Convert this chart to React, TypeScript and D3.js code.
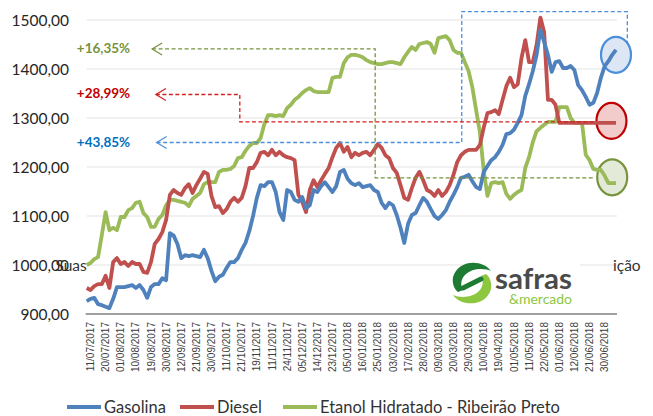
import React, { useEffect, useRef } from 'react'
import * as d3 from 'd3'

const dateLabels = [
  '11/07/2017', '20/07/2017', '01/08/2017', '10/08/2017', '19/08/2017', '30/08/2017',
  '12/09/2017', '21/09/2017', '30/09/2017', '11/10/2017', '21/10/2017', '19/11/2017',
  '11/11/2017', '24/11/2017', '05/12/2017', '14/12/2017', '23/12/2017', '05/01/2018',
  '16/01/2018', '25/01/2018', '03/02/2018', '17/02/2018', '28/02/2018', '09/03/2018',
  '20/03/2018', '29/03/2018', '10/04/2018', '19/04/2018', '01/05/2018', '11/05/2018',
  '22/05/2018', '01/06/2018', '12/06/2018', '21/06/2018', '30/06/2018',
]

const gasolina = [
  926, 931, 933, 920, 918, 915, 912, 931, 955, 955,
  955, 957, 959, 953, 959, 949, 933, 955, 961, 961,
  973, 969, 1065, 1060, 1043, 1014, 1020, 1018, 1020, 1018,
  1016, 1031, 1014, 988, 967, 976, 980, 994, 1006, 1006,
  1014, 1031, 1045, 1069, 1100, 1137, 1163, 1161, 1169, 1169,
  1149, 1108, 1092, 1153, 1149, 1133, 1129, 1139, 1116, 1122,
  1153, 1149, 1161, 1169, 1159, 1149, 1161, 1190, 1194, 1176,
  1167, 1163, 1167, 1159, 1161, 1163, 1153, 1149, 1127, 1116,
  1127, 1122, 1102, 1076, 1045, 1084, 1102, 1106, 1122, 1137,
  1129, 1114, 1100, 1094, 1102, 1112, 1129, 1143, 1159, 1178,
  1180, 1184, 1171, 1159, 1155, 1190, 1202, 1214, 1220, 1231,
  1245, 1267, 1269, 1276, 1290, 1306, 1345, 1369, 1396, 1429,
  1480, 1455, 1429, 1394, 1414, 1416, 1402, 1402, 1406, 1398,
  1367, 1357, 1343, 1327, 1331, 1351, 1382, 1406, 1416, 1429,
  1439,
]

const diesel = [
  953, 949, 957, 961, 961, 978, 953, 1006, 1014, 1002,
  1006, 998, 1006, 1002, 1002, 986, 984, 1006, 1043, 1053,
  1067, 1092, 1143, 1153, 1147, 1143, 1157, 1165, 1147, 1163,
  1176, 1190, 1186, 1141, 1118, 1120, 1106, 1114, 1129, 1137,
  1129, 1137, 1161, 1198, 1198, 1210, 1229, 1231, 1224, 1235,
  1224, 1231, 1224, 1220, 1218, 1214, 1143, 1129, 1108, 1153,
  1173, 1159, 1173, 1186, 1198, 1220, 1239, 1249, 1231, 1241,
  1220, 1229, 1224, 1229, 1231, 1224, 1235, 1247, 1239, 1224,
  1218, 1198, 1188, 1163, 1137, 1133, 1157, 1178, 1190, 1173,
  1153, 1149, 1141, 1153, 1141, 1149, 1163, 1184, 1210, 1224,
  1231, 1235, 1235, 1235, 1245, 1280, 1310, 1312, 1316, 1308,
  1337, 1365, 1382, 1363, 1369, 1422, 1459, 1414, 1414, 1449,
  1505, 1475, 1337, 1337, 1327, 1290, 1290, 1290, 1290, 1290,
  1290, 1290, 1290, 1290, 1290, 1290, 1290, 1290, 1290, 1290,
  1290,
]

const etanol = [
  1000, 1004, 1012, 1016, 1061, 1108, 1071, 1076, 1071, 1098,
  1098, 1112, 1116, 1127, 1129, 1106, 1098, 1078, 1078, 1094,
  1102, 1122, 1133, 1133, 1131, 1129, 1127, 1120, 1135, 1141,
  1147, 1165, 1169, 1169, 1169, 1190, 1194, 1194, 1196, 1202,
  1218, 1220, 1233, 1243, 1249, 1249, 1259, 1288, 1306, 1306,
  1304, 1306, 1304, 1320, 1327, 1337, 1343, 1351, 1357, 1361,
  1355, 1353, 1353, 1353, 1353, 1382, 1384, 1384, 1412, 1424,
  1429, 1429, 1427, 1424, 1418, 1414, 1412, 1410, 1410, 1412,
  1414, 1414, 1412, 1410, 1424, 1435, 1445, 1439, 1451, 1453,
  1455, 1451, 1433, 1463, 1465, 1467, 1459, 1439, 1433, 1433,
  1414, 1396, 1363, 1316, 1271, 1194, 1141, 1167, 1169, 1167,
  1169, 1145, 1135, 1143, 1149, 1153, 1198, 1220, 1251, 1273,
  1280, 1286, 1292, 1292, 1292, 1322, 1322, 1322, 1300, 1290,
  1290, 1290, 1225, 1214, 1196, 1194, 1194, 1182, 1167, 1167,
  1167,
]

const yTicks = [900, 1000, 1100, 1200, 1300, 1400, 1500]
const seriesNames = ['Gasolina', 'Diesel', 'Etanol Hidratado - Ribeirão Preto']
const seriesColors = ['#4F81BD', '#C0504D', '#9BBB59']
const changeLabels = ['+43,85%', '+28,99%', '+16,35%']

const W = 653
const H = 416

const App = () => {
  const ref = useRef<SVGSVGElement>(null)

  useEffect(() => {
    const svg = d3.select(ref.current)
    svg.selectAll('*').remove()

    const margin = { top: 20, right: 37, bottom: 102, left: 86.7 }
    const n = gasolina.length
    const x = d3.scalePoint<number>()
      .domain(d3.range(n))
      .range([margin.left, W - margin.right])
    const xi = (i: number) => margin.left + i * x.step()
    const y = d3.scaleLinear()
      .domain([900, 1500])
      .range([H - margin.bottom, margin.top])

    const locale = d3.formatLocale({ decimal: ',', thousands: '', grouping: [3], currency: ['', ''] })
    const fmt = locale.format('.2f')

    // gridlines
    svg.append('g')
      .selectAll('line')
      .data(yTicks.slice(1))
      .join('line')
      .attr('x1', margin.left).attr('x2', W - margin.right + 1)
      .attr('y1', d => y(d)).attr('y2', d => y(d))
      .attr('stroke', '#E4E4E4').attr('stroke-width', 1.2)

    // stray text fragments peeking out from behind the plot
    svg.append('text')
      .attr('x', margin.left).attr('y', y(1000) + 5.5)
      .attr('text-anchor', 'end')
      .attr('font-family', 'Lato').attr('font-size', 15.5).attr('fill', '#333')
      .text('Suas')
    svg.append('text')
      .attr('x', 613).attr('y', y(1000) + 5.5)
      .attr('font-family', 'Lato').attr('font-size', 15.5).attr('fill', '#333')
      .text('ição')

    // y labels
    svg.append('g')
      .selectAll('text')
      .data(yTicks)
      .join('text')
      .attr('x', 69).attr('y', d => y(d) + 5.5)
      .attr('text-anchor', 'end')
      .attr('font-family', 'Lato').attr('font-size', 15.5).attr('fill', '#262626')
      .text(d => fmt(d))

    // logo
    const logo = svg.append('g')
    logo.append('rect').attr('x', 486).attr('y', 258).attr('width', 94).attr('height', 50).attr('fill', '#fff')
    logo.append('path')
      .attr('d', 'M491,271 C483,259 458,259 453,277 C452,283 454,289 458,292 L463,290 C460,285 461,279 465,275 C472,268 484,268 491,271 Z')
      .attr('fill', '#1E7B34')
    logo.append('path')
      .attr('d', 'M453,295 C461,307 486,307 491,289 C492,283 490,277 486,274 L481,276 C484,281 483,287 479,291 C472,298 460,298 453,295 Z')
      .attr('fill', '#8DC63F')
    logo.append('line')
      .attr('x1', 463).attr('y1', 288).attr('x2', 481).attr('y2', 279)
      .attr('stroke', '#1E7B34').attr('stroke-width', 5).attr('stroke-linecap', 'round')
    logo.append('text')
      .attr('x', 495).attr('y', 289)
      .attr('font-family', 'Lato').attr('font-weight', 700).attr('font-size', 29)
      .attr('fill', '#4A4A4A').attr('textLength', 77).attr('lengthAdjust', 'spacingAndGlyphs')
      .text('safras')
    logo.append('text')
      .attr('x', 509).attr('y', 304)
      .attr('font-family', 'Lato').attr('font-size', 12.5)
      .attr('fill', '#8DC63F').attr('textLength', 63).attr('lengthAdjust', 'spacingAndGlyphs')
      .text('&mercado')

    // circles at the end of each series
    const circles = [
      { i: 140, v: 1429, fill: '#DCE6F4', stroke: '#4A8FD8' },
      { i: 138.8, v: 1294, fill: '#F2CBCB', stroke: '#C00000' },
      { i: 139, v: 1179, fill: '#E3EAD8', stroke: '#77933C' },
    ]
    svg.append('g')
      .selectAll('ellipse')
      .data(circles)
      .join('ellipse')
      .attr('cx', d => xi(d.i)).attr('cy', d => y(d.v))
      .attr('rx', 15).attr('ry', 18)
      .attr('fill', d => d.fill).attr('stroke', d => d.stroke).attr('stroke-width', 2.2)

    // series
    const line = d3.line<number>()
      .x((d, i) => x(i) as number)
      .y(d => y(d))
    const series = [gasolina, diesel, etanol]
    svg.append('g')
      .selectAll('path')
      .data([etanol, diesel, gasolina])
      .join('path')
      .attr('d', d => line(d))
      .attr('fill', 'none')
      .attr('stroke', d => seriesColors[series.indexOf(d)])
      .attr('stroke-width', 3.8)
      .attr('stroke-linejoin', 'round')

    // dashed annotation paths
    const annotations = [
      { color: '#4A8FD8', label: changeLabels[0], text: '#0070C0', pts: [[18.5, 1250], [99.2, 1250], [99.2, 1517], [143, 1517], [143, 1453]] },
      { color: '#D42020', label: changeLabels[1], text: '#C00000', pts: [[18.3, 1348], [40.5, 1348], [40.5, 1292], [134, 1292]] },
      { color: '#77933C', label: changeLabels[2], text: '#77933C', pts: [[17.3, 1441], [76.3, 1441], [76.3, 1178], [134, 1178]] },
    ]
    const ann = svg.append('g')
    annotations.forEach(a => {
      const pl = d3.line<number[]>().x(p => xi(p[0])).y(p => y(p[1]))
      ann.append('path')
        .attr('d', pl(a.pts))
        .attr('fill', 'none').attr('stroke', a.color)
        .attr('stroke-width', 1.3).attr('stroke-dasharray', '4,2.5')
      const tx = xi(a.pts[0][0])
      const ty = y(a.pts[0][1])
      ann.append('path')
        .attr('d', `M${tx + 10},${ty - 6} L${tx},${ty} L${tx + 10},${ty + 6}`)
        .attr('fill', 'none').attr('stroke', a.color).attr('stroke-width', 1.2)
      ann.append('text')
        .attr('x', 103.5).attr('y', ty + 4)
        .attr('text-anchor', 'middle')
        .attr('font-family', 'Lato').attr('font-weight', 700).attr('font-size', 13.5)
        .attr('fill', a.text)
        .text(a.label)
    })

    // x axis
    svg.append('line')
      .attr('x1', margin.left - 1).attr('x2', W - margin.right + 1)
      .attr('y1', y(900)).attr('y2', y(900))
      .attr('stroke', '#A0A0A0').attr('stroke-width', 1.8)

    svg.append('g')
      .selectAll('text')
      .data(dateLabels)
      .join('text')
      .attr('transform', (d, k) => `translate(${(x(1 + 4 * k) as number) + 3.6},${y(900) + 8}) rotate(-90)`)
      .attr('text-anchor', 'end')
      .attr('font-family', 'Liberation Sans').attr('font-size', 10).attr('fill', '#404040')
      .text(d => d)

    // legend
    const legendX = [67, 180, 283]
    const lg = svg.append('g')
    seriesNames.forEach((name, k) => {
      lg.append('line')
        .attr('x1', legendX[k]).attr('x2', legendX[k] + 34)
        .attr('y1', 407).attr('y2', 407)
        .attr('stroke', seriesColors[k]).attr('stroke-width', 4)
      lg.append('text')
        .attr('x', legendX[k] + 37).attr('y', 412.5)
        .attr('font-family', 'Lato').attr('font-size', 16.5).attr('fill', '#333')
        .text(name)
    })
  }, [])

  return (
    <svg
      ref={ref}
      width={W}
      height={H}
      style={{ position: 'absolute', left: 0, top: 0, background: '#fff' }}
    />
  )
}

export default App
